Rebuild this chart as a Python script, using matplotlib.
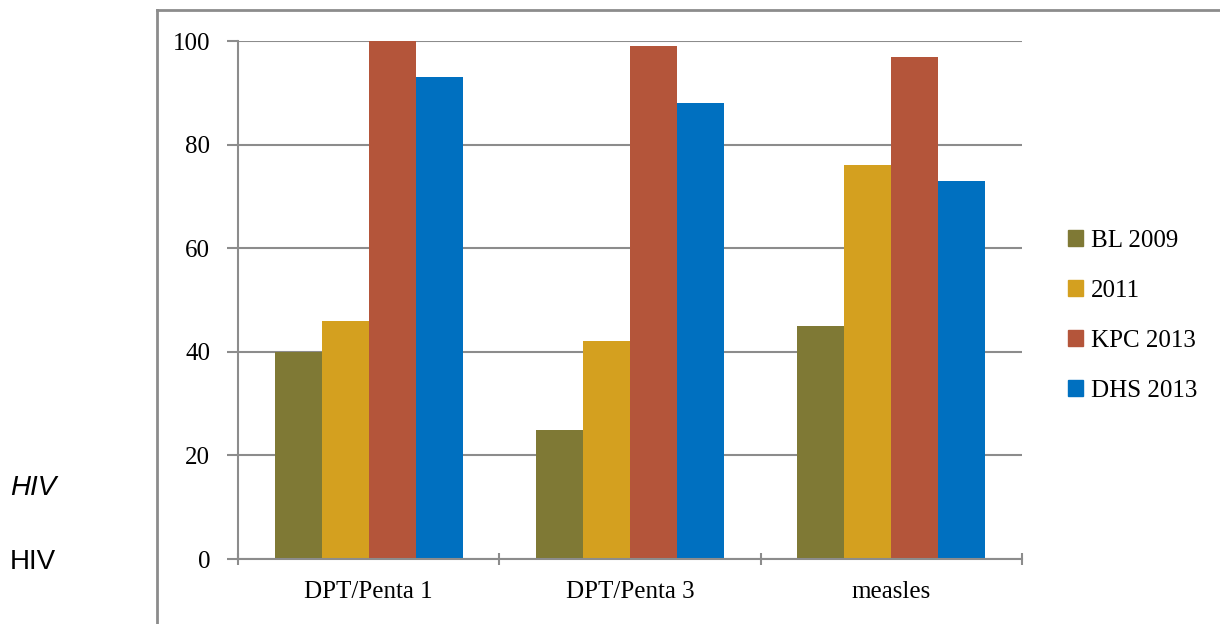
import numpy as np
import matplotlib.pyplot as plt
from matplotlib.lines import Line2D
from matplotlib.patches import Patch

# Data
categories = ['DPT/Penta 1', 'DPT/Penta 3', 'measles']
series_names = ['BL 2009', '2011', 'KPC 2013', 'DHS 2013']
bl_2009 = [40, 25, 45]
y_2011 = [46, 42, 76]
kpc_2013 = [100, 99, 97]
dhs_2013 = [93, 88, 73]
colors = ['#7F7935', '#D4A01F', '#B4553A', '#0070C0']

plt.rcParams['font.family'] = ['Liberation Serif', 'DejaVu Serif']

fig = plt.figure(figsize=(12.2, 6.24), dpi=100)
ax = fig.add_axes([238 / 1220, 65 / 624, 784 / 1220, 518 / 624])

x = np.arange(len(categories))
width = 0.18
all_series = [bl_2009, y_2011, kpc_2013, dhs_2013]
for i, (vals, name, c) in enumerate(zip(all_series, series_names, colors)):
    ax.bar(x + (i - 1.5) * width, vals, width, color=c, label=name, zorder=3)

ax.set_xlim(-0.5, len(categories) - 0.5)
ax.set_ylim(0, 100)
ax.set_yticks(range(0, 101, 20))
ax.grid(axis='y', color='#8c8c8c', linewidth=1.5, zorder=0)

# x ticks at category boundaries, labels at centres
ax.set_xticks(np.arange(-0.5, len(categories), 1.0))
ax.set_xticklabels([])
ax.set_xticks(x, minor=True)
ax.set_xticklabels(categories, minor=True, fontsize=18)
ax.tick_params(axis='x', which='minor', length=0, pad=16)
ax.tick_params(axis='x', which='major', length=8, width=1.5, color='#8c8c8c', direction='inout')
ax.tick_params(axis='y', length=8, width=1.5, color='#8c8c8c', labelsize=18, pad=12)

for s in ['top', 'right']:
    ax.spines[s].set_visible(False)
for s in ['left', 'bottom']:
    ax.spines[s].set_color('#8c8c8c')
    ax.spines[s].set_linewidth(1.5)
ax.spines['bottom'].set_zorder(4)

handles = [Patch(color=c) for c in colors]
fig.legend(handles, series_names, loc='center left', bbox_to_anchor=(1045 / 1220, 308 / 624),
           frameon=False, fontsize=18, handlelength=0.6, handleheight=0.6,
           handletextpad=0.35, labelspacing=1.12)

# outer border of the chart area
fig.add_artist(Line2D([157 / 1220, 157 / 1220], [0, 1 - 10 / 624], color='#8c8c8c', linewidth=2))
fig.add_artist(Line2D([157 / 1220, 1], [1 - 10 / 624, 1 - 10 / 624], color='#8c8c8c', linewidth=2))

fig.text(10 / 1220, 1 - 488 / 624, 'HIV', family=['Liberation Sans'], style='italic',
         fontsize=20, va='center', ha='left')
fig.text(10 / 1220, 1 - 562 / 624, 'HIV', family=['Liberation Sans'],
         fontsize=20, va='center', ha='left')

fig.savefig('out.png', dpi=100)
